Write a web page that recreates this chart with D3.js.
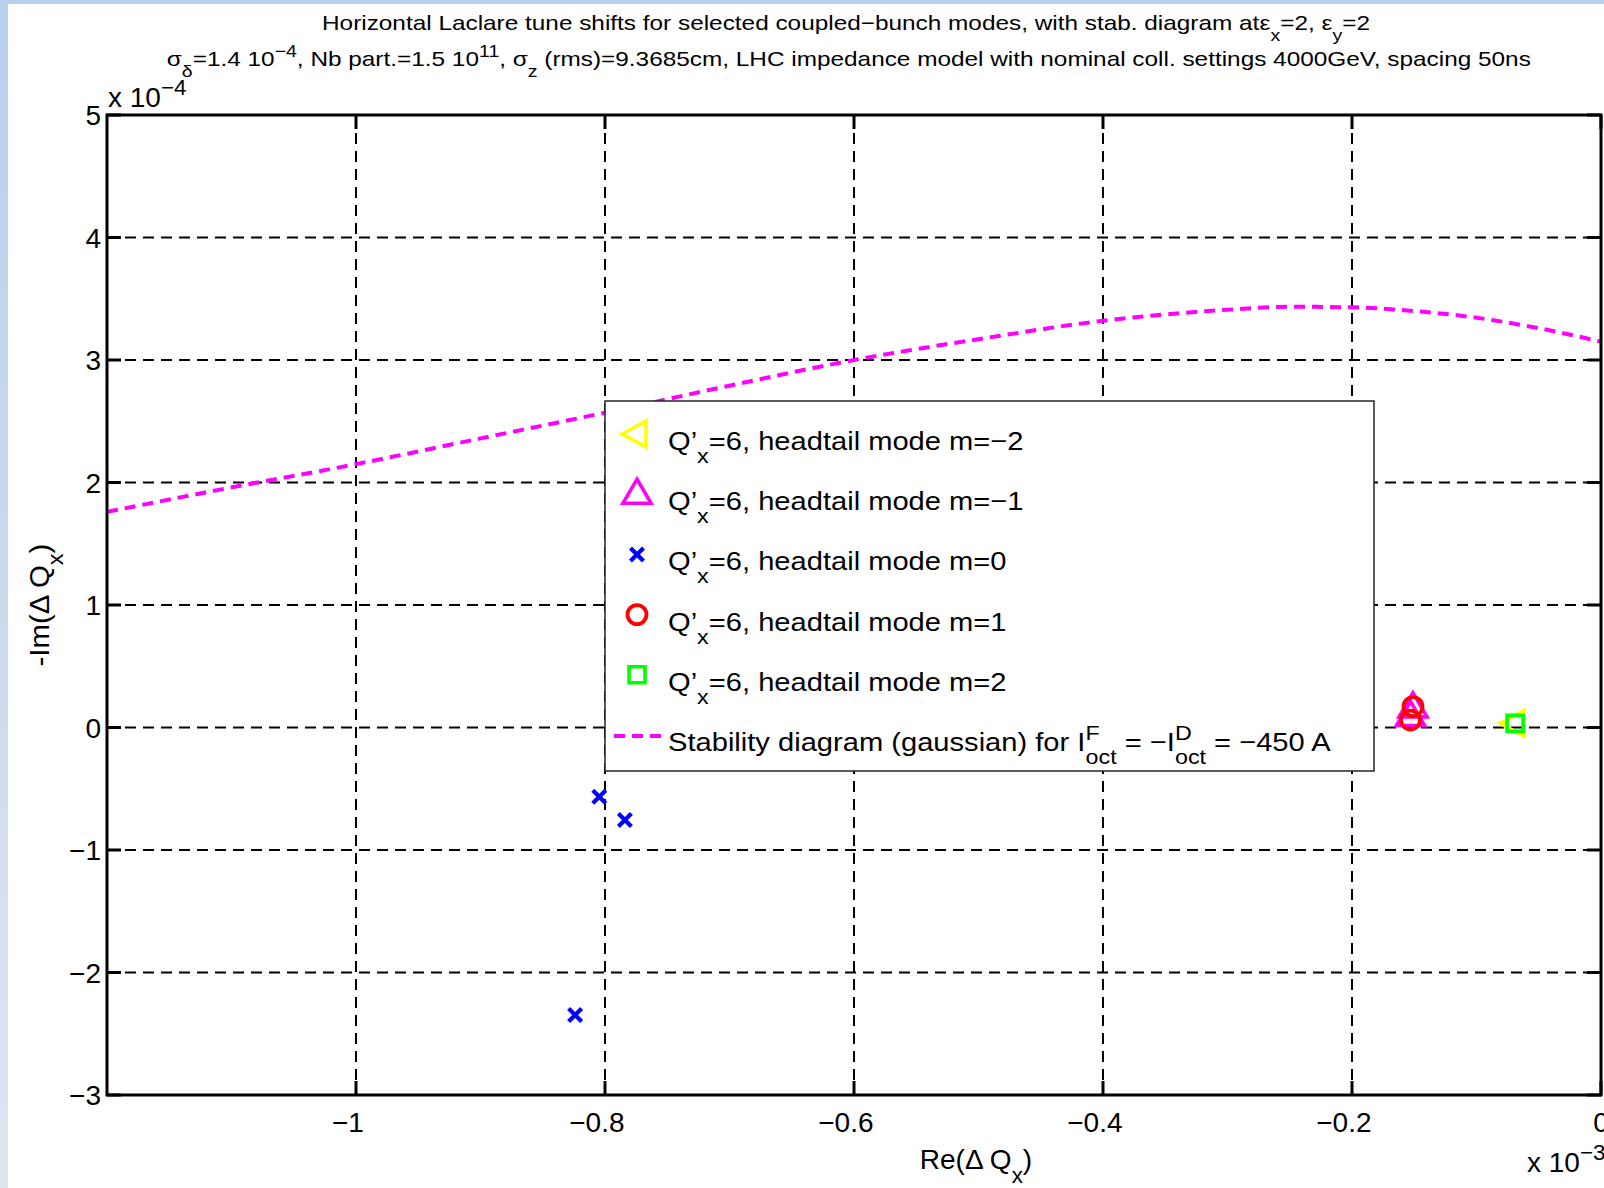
<!DOCTYPE html>
<html><head><meta charset="utf-8">
<script src="https://cdn.jsdelivr.net/npm/d3@7"></script>
<style>
html,body{margin:0;padding:0;background:#fff;}
svg{display:block;}
text{font-family:"Liberation Sans",Arial,Helvetica,sans-serif;white-space:pre;fill:#000;}
</style>
</head><body>
<svg id="chart" width="1604" height="1188"></svg>
<script>
// ---- data (Re in units of 1e-3, -Im in units of 1e-4) ----
const xTicks = [-1, -0.8, -0.6, -0.4, -0.2, 0];
const xTickLabels = ["−1", "−0.8", "−0.6", "−0.4", "−0.2", "0"];
const yTicks = [-3, -2, -1, 0, 1, 2, 3, 4, 5];
const yTickLabels = ["−3", "−2", "−1", "0", "1", "2", "3", "4", "5"];

// stability diagram (gaussian)
const stabRe = [-1.2, -1.1, -1.0, -0.9, -0.8, -0.7, -0.6, -0.5, -0.4, -0.3, -0.25, -0.2, -0.15, -0.1, -0.05, 0];
const stabIm = [1.76, 1.96, 2.15, 2.36, 2.57, 2.79, 3.00, 3.17, 3.32, 3.41, 3.435, 3.43, 3.40, 3.345, 3.26, 3.15];

// headtail modes
const modeM2Re = [-0.069];          const modeM2Im = [0.034];          // m=-2
const modeM1Re = [-0.151, -0.153];  const modeM1Im = [0.16, 0.09];     // m=-1
const mode0Re  = [-0.8046, -0.784, -0.824]; const mode0Im = [-0.565, -0.755, -2.347]; // m=0
const mode1Re  = [-0.151, -0.153];  const mode1Im  = [0.17, 0.061];    // m=1
const mode2Re  = [-0.069];          const mode2Im  = [0.034];          // m=2

const modeNames = ["m=−2", "m=−1", "m=0", "m=1", "m=2"];
const modeColors = ["#ffff00", "#ff00ff", "#0000ff", "#ff0000", "#00ff00"];
const modeShapes = ["triLeft", "triUp", "cross", "circle", "square"];

// ---- layout ----
const svg = d3.select("#chart");
const L = 107, R = 1601, T = 115, B = 1095;
const x = d3.scaleLinear().domain([-1.2, 0]).range([L, R]);
const y = d3.scaleLinear().domain([-3, 5]).range([B, T]);

// background frame strips
const defs = svg.append("defs");
const grad = defs.append("linearGradient").attr("id", "lg").attr("x1", 0).attr("y1", 0).attr("x2", 0).attr("y2", 1);
grad.append("stop").attr("offset", "0%").attr("stop-color", "#b8cfee");
grad.append("stop").attr("offset", "100%").attr("stop-color", "#dfe5ee");
svg.append("rect").attr("x", 0).attr("y", 0).attr("width", 8).attr("height", 1188).attr("fill", "url(#lg)");
svg.append("rect").attr("x", 0).attr("y", 0).attr("width", 1604).attr("height", 4).attr("fill", "#b8cfee");

defs.append("clipPath").attr("id", "clip").append("rect")
  .attr("x", L).attr("y", T).attr("width", R - L).attr("height", B - T);

// rich text helper (sub/superscripts, stacking, horizontal stretch)
function rich(parent, px, py, runs, size, anchor, sx) {
  sx = sx || 1;
  const g = parent.append("g");
  let cx = 0, lastStart = 0;
  runs.forEach(r => {
    const fs = r.s ? size * 0.8 : size;
    const dy = r.s === "sub" ? size * 0.5 : (r.s === "sup" ? -size * 0.42 : 0);
    const st = r.stack ? lastStart : cx;
    const t = g.append("text").attr("x", st).attr("y", dy).attr("font-size", fs).text(r.t);
    const w = t.node().getComputedTextLength();
    if (r.stack) { cx = Math.max(cx, st + w); }
    else { lastStart = st; cx = st + w; }
  });
  const tw = cx * sx;
  const off = anchor === "middle" ? -tw / 2 : (anchor === "end" ? -tw : 0);
  g.attr("transform", `translate(${px + off},${py}) scale(${sx},1)`);
  return g;
}

// grid
const grid = svg.append("g");
grid.selectAll("line.gx").data(xTicks).join("line")
  .attr("x1", d => x(d)).attr("x2", d => x(d)).attr("y1", T).attr("y2", B)
  .attr("stroke", "#000").attr("stroke-width", 2).attr("stroke-dasharray", "11,7");
grid.selectAll("line.gy").data(yTicks).join("line")
  .attr("x1", L).attr("x2", R).attr("y1", d => y(d)).attr("y2", d => y(d))
  .attr("stroke", "#000").attr("stroke-width", 2).attr("stroke-dasharray", "11,7");

// markers
const shapePath = {
  triLeft: "M-15,0L9,-13L9,13Z",
  triUp: "M0,-15L14,9L-14,9Z",
  cross: "M-6.5,-6.5L6.5,6.5M-6.5,6.5L6.5,-6.5",
  circle: d3.arc()({innerRadius: 0, outerRadius: 9.5, startAngle: 0, endAngle: 2 * Math.PI}),
  square: "M-8,-8H8V8H-8Z"
};
const shapeStroke = {triLeft: 3.6, triUp: 3.6, cross: 4.2, circle: 3.8, square: 3.6};
const modeRe = [modeM2Re, modeM1Re, mode0Re, mode1Re, mode2Re];
const modeIm = [modeM2Im, modeM1Im, mode0Im, mode1Im, mode2Im];

const plotG = svg.append("g").attr("clip-path", "url(#clip)");
modeNames.forEach((nm, i) => {
  const pts = modeRe[i].map((re, k) => ({re, im: modeIm[i][k]}));
  plotG.selectAll(null).data(pts).join("path")
    .attr("transform", d => `translate(${x(d.re)},${y(d.im)})`)
    .attr("d", shapePath[modeShapes[i]])
    .attr("fill", "none").attr("stroke", modeColors[i])
    .attr("stroke-width", shapeStroke[modeShapes[i]]);
});

// stability curve
const stabData = stabRe.map((re, k) => ({re, im: stabIm[k]}));
plotG.append("path").datum(stabData)
  .attr("d", d3.line().x(d => x(d.re)).y(d => y(d.im)).curve(d3.curveMonotoneX))
  .attr("fill", "none").attr("stroke", "#ff00ff").attr("stroke-width", 4)
  .attr("stroke-dasharray", "11,7");

// axes box + ticks
const tickLen = 14;
const axG = svg.append("g");
axG.append("rect").attr("x", L).attr("y", T).attr("width", R - L).attr("height", B - T)
  .attr("fill", "none").attr("stroke", "#000").attr("stroke-width", 3);
axG.selectAll("line.tb").data(xTicks).join("line")
  .attr("x1", d => x(d)).attr("x2", d => x(d)).attr("y1", B).attr("y2", B - tickLen)
  .attr("stroke", "#000").attr("stroke-width", 3);
axG.selectAll("line.tt").data(xTicks).join("line")
  .attr("x1", d => x(d)).attr("x2", d => x(d)).attr("y1", T).attr("y2", T + tickLen)
  .attr("stroke", "#000").attr("stroke-width", 3);
axG.selectAll("line.tl").data(yTicks).join("line")
  .attr("x1", L).attr("x2", L + tickLen).attr("y1", d => y(d)).attr("y2", d => y(d))
  .attr("stroke", "#000").attr("stroke-width", 3);
axG.selectAll("line.tr").data(yTicks).join("line")
  .attr("x1", R).attr("x2", R - tickLen).attr("y1", d => y(d)).attr("y2", d => y(d))
  .attr("stroke", "#000").attr("stroke-width", 3);

// tick labels
axG.selectAll("text.xl").data(xTicks).join("text")
  .attr("x", d => x(d)).attr("y", 1132).attr("text-anchor", "middle")
  .attr("dx", (d, i) => xTickLabels[i].startsWith("−") ? "-0.29em" : 0)
  .attr("font-size", 28).text((d, i) => xTickLabels[i]);
axG.selectAll("text.yl").data(yTicks).join("text")
  .attr("x", 101).attr("y", d => y(d)).attr("dy", "0.36em").attr("text-anchor", "end")
  .attr("font-size", 28).text((d, i) => yTickLabels[i]);

// exponent labels
rich(svg, 108, 107, [{t: "x 10"}, {t: "−4", s: "sup"}], 28, "start");
rich(svg, 1527, 1172, [{t: "x 10"}, {t: "−3", s: "sup"}], 28, "start");

// axis labels
rich(svg, 976, 1169, [{t: "Re(Δ Q"}, {t: "x", s: "sub"}, {t: ")"}], 28, "middle");
const yl = svg.append("g").attr("transform", "translate(49,605) rotate(-90)");
rich(yl, 0, 0, [{t: "-Im(Δ Q"}, {t: "x", s: "sub"}, {t: ")"}], 28, "middle", 1.05);

// titles
rich(svg, 846, 30, [
  {t: "Horizontal Laclare tune shifts for selected coupled−bunch modes, with stab. diagram atε"},
  {t: "x", s: "sub"}, {t: "=2, ε"}, {t: "y", s: "sub"}, {t: "=2"}], 21, "middle", 1.16);
rich(svg, 849, 66, [
  {t: "σ"}, {t: "δ", s: "sub"}, {t: "=1.4 10"}, {t: "−4", s: "sup"},
  {t: ", Nb part.=1.5 10"}, {t: "11", s: "sup"}, {t: ", σ"}, {t: "z", s: "sub"},
  {t: " (rms)=9.3685cm, LHC impedance model with nominal coll. settings 4000GeV, spacing 50ns"}], 21, "middle", 1.16);

// legend
const lg = svg.append("g");
lg.append("rect").attr("x", 605).attr("y", 401).attr("width", 769).attr("height", 370)
  .attr("fill", "#fff").attr("stroke", "#262626").attr("stroke-width", 1.5);
const rowBase = k => 450 + 60.2 * k;
modeNames.forEach((nm, k) => {
  lg.append("path").attr("transform", `translate(637,${rowBase(k) - 16})`)
    .attr("d", shapePath[modeShapes[k]]).attr("fill", "none")
    .attr("stroke", modeColors[k]).attr("stroke-width", shapeStroke[modeShapes[k]]);
  rich(lg, 668, rowBase(k), [{t: "Q’"}, {t: "x", s: "sub"}, {t: "=6, headtail mode " + nm}], 26, "start", 1.12);
});
lg.append("line").attr("x1", 614).attr("x2", 662).attr("y1", rowBase(5) - 15).attr("y2", rowBase(5) - 15)
  .attr("stroke", "#ff00ff").attr("stroke-width", 4).attr("stroke-dasharray", "11,7");
rich(lg, 668, rowBase(5), [
  {t: "Stability diagram (gaussian) for I"}, {t: "F", s: "sup"}, {t: "oct", s: "sub", stack: true},
  {t: " = −I"}, {t: "D", s: "sup"}, {t: "oct", s: "sub", stack: true}, {t: " = −450 A"}], 26, "start", 1.12);
</script>
</body></html>
